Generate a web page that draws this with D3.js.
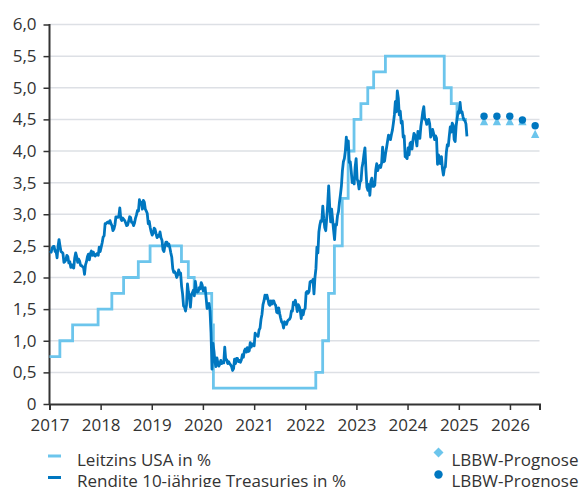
<!DOCTYPE html>
<html>
<head>
  <meta http-equiv="Content-Type" content="text/html; charset=utf-8"/>
  <title>Leitzins und Rendite USA</title>
  <script src="https://d3js.org/d3.v7.min.js"></script>
  <style>
    body { margin: 0; background: #fff; }
    svg text { font-family: "Open Sans", "Noto Sans", sans-serif; fill: #333; }
  </style>
</head>

<body>

<svg id="chart"></svg>

<script type="text/javascript">

// Leitzins USA (Obergrenze), Zeitpunkte der Zinsschritte
const rateDates = [
  "2017-01-01", "2017-03-16", "2017-06-15", "2017-12-14", "2018-03-22", "2018-06-14",
  "2018-09-27", "2018-12-20", "2019-08-01", "2019-09-19", "2019-10-31", "2020-03-04",
  "2020-03-16", "2022-03-17", "2022-05-05", "2022-06-16", "2022-07-28", "2022-09-22",
  "2022-11-03", "2022-12-15", "2023-02-02", "2023-03-23", "2023-05-04", "2023-07-27",
  "2024-09-19", "2024-11-08", "2024-12-19", "2025-02-28"
];
const rateValues = [
  0.75, 1.00, 1.25, 1.50, 1.75, 2.00,
  2.25, 2.50, 2.25, 2.00, 1.75, 1.25,
  0.25, 0.50, 1.00, 1.75, 2.50, 3.25,
  4.00, 4.50, 4.75, 5.00, 5.25, 5.50,
  5.00, 4.75, 4.50, 4.50
];

// Rendite 10-jährige Treasuries, wöchentlich (Freitag), ab 06.01.2017
const yieldStart = "2017-01-06";
const yield2017 = [
  2.42, 2.40, 2.47, 2.49, 2.49, 2.41, 2.42, 2.31, 2.49, 2.60, 2.50, 2.41, 2.40,
  2.38, 2.24, 2.25, 2.28, 2.35, 2.33, 2.23, 2.25, 2.16, 2.20, 2.16, 2.15, 2.31,
  2.39, 2.33, 2.24, 2.29, 2.26, 2.19, 2.19, 2.17, 2.16, 2.05, 2.20, 2.25, 2.33,
  2.37, 2.28, 2.38, 2.42, 2.35, 2.40, 2.35, 2.34, 2.37, 2.38, 2.35, 2.48, 2.41
];
const yield2018 = [
  2.48, 2.55, 2.64, 2.66, 2.85, 2.85, 2.87, 2.88, 2.86, 2.90, 2.85, 2.82, 2.74,
  2.77, 2.83, 2.96, 2.96, 2.95, 2.97, 3.10, 2.93, 2.90, 2.94, 2.92, 2.90, 2.86,
  2.82, 2.83, 2.89, 2.96, 2.95, 2.87, 2.87, 2.82, 2.86, 2.94, 2.99, 3.06, 3.05,
  3.23, 3.16, 3.19, 3.08, 3.22, 3.19, 3.08, 3.05, 3.01, 2.85, 2.89, 2.79, 2.72
];
const yield2019 = [
  2.67, 2.70, 2.78, 2.76, 2.69, 2.63, 2.67, 2.65, 2.72, 2.63, 2.59, 2.44, 2.41,
  2.50, 2.56, 2.56, 2.50, 2.53, 2.47, 2.39, 2.32, 2.14, 2.08, 2.09, 2.06, 2.00,
  2.04, 2.12, 2.05, 2.07, 1.86, 1.74, 1.55, 1.53, 1.47, 1.56, 1.90, 1.77, 1.69,
  1.53, 1.73, 1.76, 1.80, 1.71, 1.94, 1.83, 1.77, 1.78, 1.84, 1.82, 1.92, 1.88
];
const yield2020 = [
  1.79, 1.83, 1.84, 1.68, 1.51, 1.58, 1.59, 1.47, 1.13, 0.55, 0.96, 0.84, 0.67,
  0.59, 0.73, 0.65, 0.60, 0.63, 0.69, 0.64, 0.66, 0.65, 0.90, 0.70, 0.70, 0.64,
  0.67, 0.64, 0.62, 0.59, 0.53, 0.56, 0.71, 0.64, 0.72, 0.72, 0.67, 0.69, 0.66,
  0.70, 0.78, 0.74, 0.84, 0.87, 0.82, 0.89, 0.83, 0.84, 0.97, 0.90, 0.95, 0.94
];
const yield2021 = [
  0.92, 1.12, 1.09, 1.09, 1.07, 1.17, 1.20, 1.34, 1.42, 1.57, 1.63, 1.72, 1.67,
  1.72, 1.66, 1.58, 1.56, 1.63, 1.58, 1.63, 1.63, 1.58, 1.56, 1.45, 1.44, 1.52,
  1.43, 1.36, 1.30, 1.28, 1.20, 1.30, 1.28, 1.26, 1.31, 1.33, 1.34, 1.37, 1.47,
  1.47, 1.61, 1.57, 1.64, 1.56, 1.46, 1.57, 1.54, 1.48, 1.35, 1.48, 1.41, 1.49, 1.51
];
const yield2022 = [
  1.76, 1.78, 1.75, 1.78, 1.93, 1.94, 1.93, 1.97, 1.74, 2.00, 2.14, 2.48, 2.39,
  2.72, 2.83, 2.90, 2.89, 3.13, 2.93, 2.79, 2.74, 2.94, 3.16, 3.45, 3.13, 2.88,
  3.08, 2.92, 2.75, 2.60, 2.84, 2.83, 2.98, 3.04, 3.19, 3.31, 3.45, 3.69, 3.83,
  3.88, 4.00, 4.22, 4.02, 4.16, 3.82, 3.83, 3.68, 3.50, 3.57, 3.48, 3.75, 3.88
];
const yield2023 = [
  3.56, 3.51, 3.40, 3.52, 3.53, 3.74, 3.82, 3.95, 4.05, 3.70, 3.43, 3.38, 3.47,
  3.30, 3.52, 3.57, 3.44, 3.44, 3.46, 3.70, 3.80, 3.69, 3.74, 3.77, 3.74, 3.81,
  4.06, 3.83, 3.84, 3.96, 4.05, 4.15, 4.25, 4.24, 4.18, 4.26, 4.33, 4.44, 4.57,
  4.78, 4.62, 4.95, 4.84, 4.57, 4.63, 4.44, 4.47, 4.22, 4.24, 3.91, 3.90, 3.88
];
const yield2024 = [
  4.05, 3.94, 4.12, 4.14, 4.03, 4.18, 4.28, 4.25, 4.18, 4.08, 4.31, 4.22, 4.20,
  4.39, 4.50, 4.62, 4.70, 4.50, 4.50, 4.42, 4.46, 4.50, 4.43, 4.22, 4.26, 4.34,
  4.28, 4.18, 4.24, 4.20, 3.79, 3.94, 3.89, 3.80, 3.91, 3.72, 3.62, 3.73, 3.75,
  3.98, 4.10, 4.08, 4.24, 4.38, 4.30, 4.44, 4.41, 4.18, 4.15, 4.40, 4.52, 4.62
];
const yield2025 = [4.60, 4.77, 4.61, 4.62, 4.54, 4.49, 4.48, 4.43, 4.23];

// LBBW-Prognose
const forecastDates = ["2025-06-30", "2025-09-30", "2025-12-31", "2026-03-31", "2026-06-30"];
const forecastRate = [4.45, 4.45, 4.45, 4.45, 4.25];
const forecastYield = [4.55, 4.55, 4.55, 4.49, 4.40];

const xTickYears = [2017, 2018, 2019, 2020, 2021, 2022, 2023, 2024, 2025, 2026];
const yTickValues = [0, 0.5, 1, 1.5, 2, 2.5, 3, 3.5, 4, 4.5, 5, 5.5, 6];

const legendLines = ["Leitzins USA in %", "Rendite 10-jährige Treasuries in %"];
const legendForecast = ["LBBW-Prognose", "LBBW-Prognose"];

const lightBlue = "#6cc5ec";
const darkBlue = "#0077c0";

const width = 579;
const height = 487;

const svg = d3.select("#chart")
    .attr("width", width)
    .attr("height", height);

const parse = d3.utcParse("%Y-%m-%d");

const rateData = rateDates.map((d, i) => ({ date: parse(d), value: rateValues[i] }));

const yieldValues = [].concat(yield2017, yield2018, yield2019, yield2020, yield2021,
    yield2022, yield2023, yield2024, yield2025);
const yieldData = yieldValues.map((v, i) => ({
  date: d3.utcDay.offset(parse(yieldStart), i * 7),
  value: v
}));

const forecastData = forecastDates.map((d, i) => ({
  date: parse(d),
  rate: forecastRate[i],
  yld: forecastYield[i]
}));

const x = d3.scaleUtc()
    .domain([parse("2017-01-01"), parse("2026-07-31")])
    .range([49.5, 539.5]);

const y = d3.scaleLinear()
    .domain([0, 6])
    .range([404, 24.5]);

// Gitterlinien
svg.append("g")
    .selectAll("line")
    .data(yTickValues.filter(d => d > 0))
    .join("line")
      .attr("x1", x.range()[0])
      .attr("x2", x.range()[1])
      .attr("y1", d => y(d))
      .attr("y2", d => y(d))
      .style("stroke", "#dde0e5")
      .style("stroke-width", 1.5);

// Achsen
const fmt = d => d === 0 ? "0" : d3.format(".1f")(d).replace(".", ",");

const yAxis = svg.append("g")
    .attr("transform", `translate(${x.range()[0]},0)`)
    .call(d3.axisLeft(y).tickValues(yTickValues).tickFormat(fmt).tickSize(6).tickPadding(7));

const xAxis = svg.append("g")
    .attr("transform", `translate(0,${y(0)})`)
    .call(d3.axisBottom(x)
        .tickValues(xTickYears.map(yr => new Date(Date.UTC(yr, 0, 1))))
        .tickFormat(d3.utcFormat("%Y"))
        .tickSize(6)
        .tickPadding(9));

[xAxis, yAxis].forEach(a => {
  a.select(".domain").style("stroke", "#333").style("stroke-width", 2);
  a.selectAll(".tick line").style("stroke", "#333").style("stroke-width", 1.5);
  a.selectAll(".tick text")
      .style("font-size", "17px")
      .style("fill", "#333")
      .style("font-family", '"Open Sans", "Noto Sans", sans-serif');
});
yAxis.select(".domain").attr("d", `M0,${y(6) - 0.5}V${y(0)}`);

// Linien
const line = d3.line()
    .x(d => x(d.date))
    .y(d => y(d.value));

svg.append("path")
    .datum(rateData)
    .attr("d", line.curve(d3.curveStepAfter)(rateData))
    .style("fill", "none")
    .style("stroke", lightBlue)
    .style("stroke-width", 2.8)
    .style("stroke-linejoin", "miter");

svg.append("path")
    .datum(yieldData)
    .attr("d", line.curve(d3.curveLinear)(yieldData))
    .style("fill", "none")
    .style("stroke", darkBlue)
    .style("stroke-width", 2.8)
    .style("stroke-linejoin", "round");

// Prognose-Punkte (Leitzins als Dreieck, Rendite als Kreis)
const triangle = d3.symbol().type(d3.symbolTriangle).size(30);
const diamond = d3.symbol().type(d3.symbolDiamond2).size(64);

svg.append("g")
    .selectAll("path")
    .data(forecastData)
    .join("path")
      .attr("transform", d => `translate(${x(d.date)},${y(d.rate)}) scale(1,1.15)`)
      .attr("d", triangle)
      .style("fill", lightBlue);

svg.append("g")
    .selectAll("circle")
    .data(forecastData)
    .join("circle")
      .attr("cx", d => x(d.date))
      .attr("cy", d => y(d.yld))
      .attr("r", 3.7)
      .style("fill", darkBlue);

// Legende
const legend = svg.append("g").style("font-size", "17px");

legendLines.forEach((label, i) => {
  const ly = 456 + i * 21.5;
  legend.append("line")
      .attr("x1", 48).attr("x2", 61)
      .attr("y1", ly).attr("y2", ly)
      .style("stroke", i === 0 ? lightBlue : darkBlue)
      .style("stroke-width", 3);
  legend.append("text")
      .attr("x", 77)
      .attr("y", ly + 9.5)
      .text(label);
});

legendForecast.forEach((label, i) => {
  const ly = 456 + i * 21.5;
  if (i === 0) {
    legend.append("path")
        .attr("transform", `translate(438.5,${ly - 3.5})`)
        .attr("d", diamond)
        .style("fill", lightBlue);
  } else {
    legend.append("circle")
        .attr("cx", 438.5)
        .attr("cy", ly - 3)
        .attr("r", 4.2)
        .style("fill", darkBlue);
  }
  legend.append("text")
      .attr("x", 451.5)
      .attr("y", ly + 9.5)
      .text(label);
});

</script>

</body>
</html>
